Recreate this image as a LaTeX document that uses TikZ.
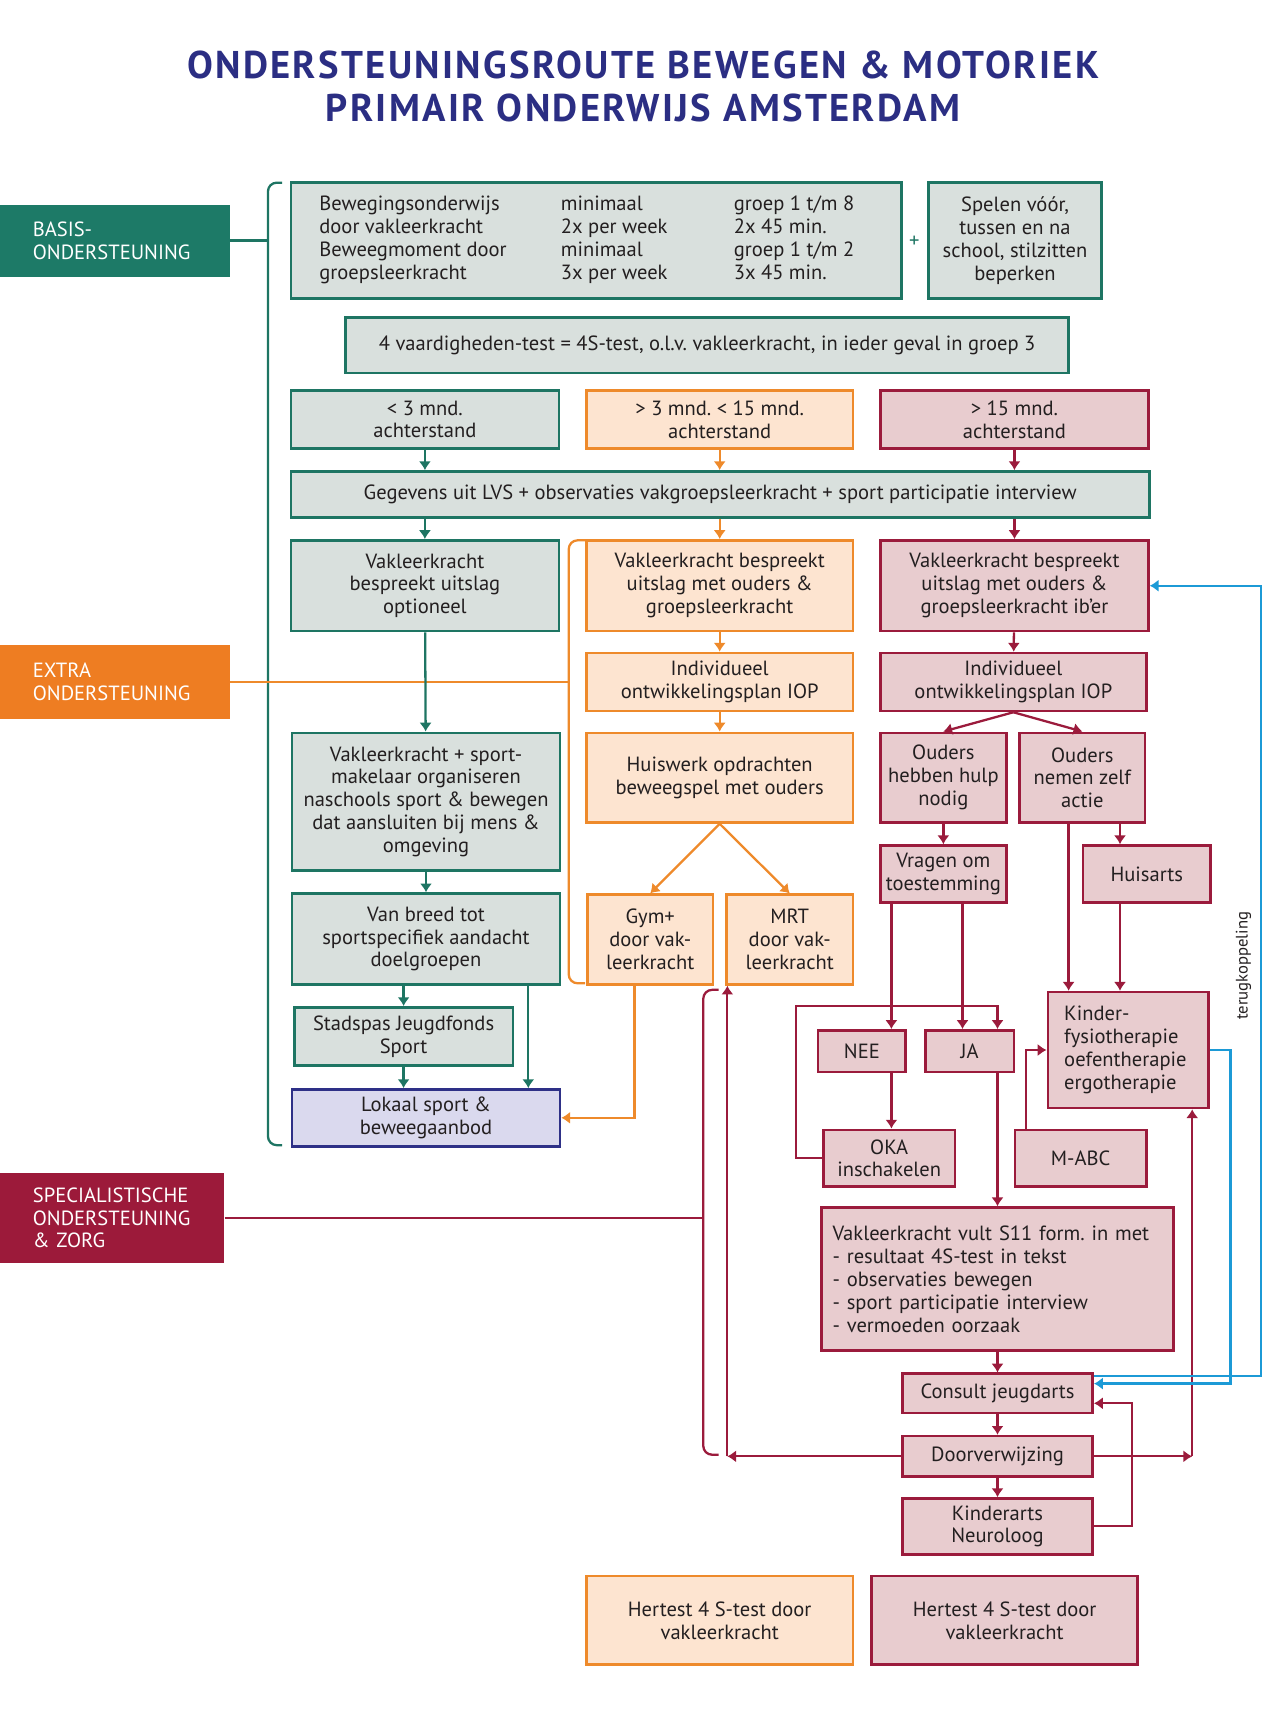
\documentclass[tikz,border=0pt]{standalone}
\usepackage{fontspec}
\setmainfont{PT Sans}
\newfontfamily\titlefont[LetterSpace=6]{PT Sans}
\usepackage{tikz}
\usetikzlibrary{positioning,arrows.meta}
\frenchspacing

\definecolor{tealc}{HTML}{1E7563}
\definecolor{tealf}{HTML}{D9E0DD}
\definecolor{tealdk}{HTML}{1D7A67}
\definecolor{orac}{HTML}{EE8A2B}
\definecolor{oraf}{HTML}{FDE4D0}
\definecolor{oradk}{HTML}{EE7D22}
\definecolor{redc}{HTML}{9B1B3C}
\definecolor{redf}{HTML}{E8CCCF}
\definecolor{reddk}{HTML}{9C1A3A}
\definecolor{bluec}{HTML}{2E3087}
\definecolor{bluef}{HTML}{DAD9EE}
\definecolor{titlec}{HTML}{2B2E83}
\definecolor{cyanc}{HTML}{1C9AD6}
\definecolor{txt}{HTML}{231F20}

\newcommand{\px}{0.021875cm}

\begin{document}
\begin{tikzpicture}[x=0.021875cm, y=-0.021875cm,
font=\fontsize{11.7}{13}\selectfont, text=txt,
box/.style={draw, line width=1.5pt, align=center, inner sep=0pt},
tb/.style={box, draw=tealc, fill=tealf},
ob/.style={box, draw=orac, fill=oraf},
rb/.style={box, draw=redc, fill=redf},
bb/.style={box, draw=bluec, fill=bluef},
sz/.style 2 args={minimum width=#1*\px, minimum height=#2*\px},
lab/.style={fill=#1, text=white, align=left, inner xsep=30*\px, inner ysep=0pt},
tip/.style={-{Latex[length=5pt,width=7pt]}},
ta/.style={draw=tealc, line width=1.3pt, tip},
oa/.style={draw=orac, line width=1.3pt, tip},
ra/.style={draw=redc, line width=1.3pt, tip},
ca/.style={draw=cyanc, line width=1.3pt, tip}
]
\useasboundingbox (0,0) rectangle (1176,1568);

\node[text=titlec, font=\titlefont\fontsize{22}{24}\selectfont\bfseries, align=center] (title) at (588,79)
{ONDERSTEUNINGSROUTE BEWEGEN \& MOTORIEK\\PRIMAIR ONDERWIJS AMSTERDAM};

\node[lab=tealdk, sz={210}{66}, text width=3.28cm] (basis) at (105,220) {BASIS-\\ONDERSTEUNING};
\node[lab=oradk, sz={210}{67}, text width=3.28cm] (extra) at (105,623.5) {EXTRA\\ONDERSTEUNING};
\node[lab=reddk, sz={205}{83}, text width=3.17cm] (spec) at (102.5,1113.5) {SPECIALISTISCHE\\ONDERSTEUNING\\\& ZORG};

\node[tb, sz={558}{106}] (b0) at (545,220) {\begin{tabular}{@{}p{4.83cm}@{}p{3.46cm}@{}p{2.78cm}@{}}
Bewegingsonderwijs & minimaal & groep 1 t/m 8\\
door vakleerkracht & 2x per week & 2x 45 min.\\
Beweegmoment door & minimaal & groep 1 t/m 2\\
groepsleerkracht & 3x per week & 3x 45 min.
\end{tabular}};
\node[text=tealc] (plus) at (836,221) {+};
\node[tb, sz={158}{106}] (spel) at (928,220) {Spelen vóór,\\tussen en na\\school, stilzitten\\beperken};
\node[tb, sz={661}{51}] (test) at (646.5,315.5) {4 vaardigheden-test = 4S-test, o.l.v. vakleerkracht, in ieder geval in groep 3};

\node[tb, sz={245}{53}] (a1) at (388.5,383.5) {< 3 mnd.\\achterstand};
\node[ob, sz={244}{53}] (b1) at (658,383.5) {> 3 mnd. < 15 mnd.\\achterstand};
\node[rb, sz={245}{53}] (c1) at (927.5,383.5) {> 15 mnd.\\achterstand};

\node[tb, sz={785}{42}] (geg) at (658.5,452) {Gegevens uit LVS + observaties vakgroepsleerkracht + sport participatie interview};

\node[tb, sz={245}{83}] (a2) at (388.5,535.5) {Vakleerkracht\\bespreekt uitslag\\optioneel};
\node[ob, sz={244}{83}] (b2) at (658,535.5) {Vakleerkracht bespreekt\\uitslag met ouders \&\\groepsleerkracht};
\node[rb, sz={245}{83}] (c2) at (927.5,535.5) {Vakleerkracht bespreekt\\uitslag met ouders \&\\groepsleerkracht ib’er};

\node[ob, sz={244}{53}] (b3) at (658,623.5) {Individueel\\ontwikkelingsplan IOP};
\node[rb, sz={243}{53}] (c3) at (926.5,623.5) {Individueel\\ontwikkelingsplan IOP};

\node[tb, sz={245}{126}] (a3) at (389.5,733) {Vakleerkracht + sport-\\makelaar organiseren\\naschools sport \& bewegen\\dat aansluiten bij mens \&\\omgeving};
\node[ob, sz={244}{82}] (b4) at (658,711) {Huiswerk opdrachten\\beweegspel met ouders};
\node[rb, sz={115}{82}] (c4) at (862.5,711) {Ouders\\hebben hulp\\nodig};
\node[rb, sz={115}{82}] (c5) at (989.5,711) {Ouders\\nemen zelf\\actie};
\node[rb, sz={115}{52}] (c6) at (862.5,799) {Vragen om\\toestemming};
\node[rb, sz={117}{52}] (c7) at (1048.5,799) {Huisarts};

\node[tb, sz={245}{83}] (a4) at (389.5,858.5) {Van breed tot\\sportspecifiek aandacht\\doelgroepen};
\node[ob, sz={115}{82}] (b5) at (594.5,859) {Gym+\\door vak-\\leerkracht};
\node[ob, sz={116}{82}] (b6) at (722,859) {MRT\\door vak-\\leerkracht};
\node[rb, sz={147}{106}, align=left, text width=2.56cm, inner xsep=15*\px] (c8) at (1031.5,960) {Kinder-\\fysiotherapie\\oefentherapie\\ergotherapie};

\node[tb, sz={200}{53}] (a5) at (369,947.5) {Stadspas Jeugdfonds\\Sport};
\node[rb, sz={80}{38}] (nee) at (788,961) {NEE};
\node[rb, sz={81}{38}] (ja) at (886.5,961) {JA};
\node[bb, sz={245}{52}] (a6) at (389.5,1022) {Lokaal sport \&\\beweegaanbod};
\node[rb, sz={120}{52}] (oka) at (813,1059) {OKA\\inschakelen};
\node[rb, sz={120}{52}] (mabc) at (988,1059) {M-ABC};

\node[rb, sz={322}{131}, align=left, text width=6.6cm, inner xsep=10*\px] (s11) at (912,1169.5)
{Vakleerkracht vult S11 form. in met\\- resultaat 4S-test in tekst\\- observaties bewegen\\- sport participatie interview\\- vermoeden oorzaak};
\node[rb, sz={174}{36}] (cons) at (912,1274) {Consult jeugdarts};
\node[rb, sz={174}{37}] (door) at (912,1331.5) {Doorverwijzing};
\node[rb, sz={174}{51}] (kind) at (912,1395.5) {Kinderarts\\Neuroloog};

\node[ob, sz={244}{81}] (h1) at (658,1481.5) {Hertest 4 S-test door\\vakleerkracht};
\node[rb, sz={243}{81}] (h2) at (918.5,1481.5) {Hertest 4 S-test door\\vakleerkracht};

\node[rotate=90, font=\fontsize{9.5}{11}\selectfont] (terug) at (1137,883) {terugkoppeling};

\coordinate (tx) at (483,0);
\coordinate (gx) at (580,0);
\coordinate (nx) at (815,0);
\coordinate (jx) at (880,0);
\coordinate (fx) at (977,0);
\coordinate (hx) at (1024,0);
\coordinate (mx) at (938,0);
\coordinate (dx) at (1090,0);
\coordinate (ux) at (665,0);
\coordinate (lp) at (728,920);
\coordinate (kp) at (1035,1283);
\coordinate (cp1) at (1125,1265);
\coordinate (cp2) at (1153,1258);

\draw[tealc, line width=1.3pt] (basis.east) -- (245,220);
\draw[tealc, line width=1.3pt, rounded corners=5pt] (258,167) -| (245,1047) -- (258,1047);
\draw[orac, line width=1.3pt] (extra.east) -- (520,623.5);
\draw[orac, line width=1.3pt, rounded corners=5pt] (535,494) -| (520,899) -- (535,899);
\draw[redc, line width=1.3pt] (spec.east) -- (643,1113.5);
\draw[redc, line width=1.3pt, rounded corners=5pt] (657,905) -| (643,1330) -- (657,1330);

\draw[ta] (a1) -- (a1 |- geg.north);
\draw[ta] (a1 |- geg.south) -- (a2);
\draw[ta] (a2) -- (a3);
\draw[ta] (a3) -- (a4);
\draw[ta] (a5 |- a4.south) -- (a5);
\draw[ta] (a5) -- (a5 |- a6.north);
\draw[ta] (tx |- a4.south) -- (tx |- a6.north);

\draw[oa] (b1) -- (b1 |- geg.north);
\draw[oa] (b1 |- geg.south) -- (b2);
\draw[oa] (b2) -- (b3);
\draw[oa] (b3) -- (b4);
\draw[oa] (b4.south) -- (b5.north);
\draw[oa] (b4.south) -- (b6.north);
\draw[oa] (gx |- b5.south) |- (a6.east);

\draw[ra] (c1) -- (c1 |- geg.north);
\draw[ra] (c1 |- geg.south) -- (c2);
\draw[ra] (c2) -- (c3);
\draw[ra] (c3.south) -- (c4.north);
\draw[ra] (c3.south) -- (c5.north);
\draw[ra] (c4) -- (c6);
\draw[ra] (hx |- c5.south) -- (hx |- c7.north);
\draw[ra] (fx |- c5.south) -- (fx |- c8.north);
\draw[ra] (hx |- c7.south) -- (hx |- c8.north);
\draw[ra] (nx |- c6.south) -- (nx |- nee.north);
\draw[ra] (jx |- c6.south) -- (jx |- ja.north);
\draw[ra] (nx |- nee.south) -- (nx |- oka.north);
\draw[ra] (oka.west) -| (lp) -| (ja.north -| s11);
\draw[ra] (ja.south -| s11) -- (s11);
\draw[ra] (mx |- mabc.north) |- (c8.west);
\draw[ra] (s11) -- (cons);
\draw[ra] (cons) -- (door);
\draw[ra] (door) -- (kind);
\draw[ra] (kind.east) -| (kp) -- (kp -| cons.east);
\draw[ra] (door.east) -- (dx |- door.east);
\draw[ra] (dx |- door.east) -- (dx |- c8.south);
\draw[ra] (door.west) -- (ux |- door.west);
\draw[ra] (ux |- door.west) -- (ux |- b6.south);

\draw[ca] (c8.east) -| (cp1) -- (cp1 -| cons.east);
\draw[ca] (cp2 -| cons.east) -- (cp2) |- (c2.east);
\end{tikzpicture}
\end{document}
